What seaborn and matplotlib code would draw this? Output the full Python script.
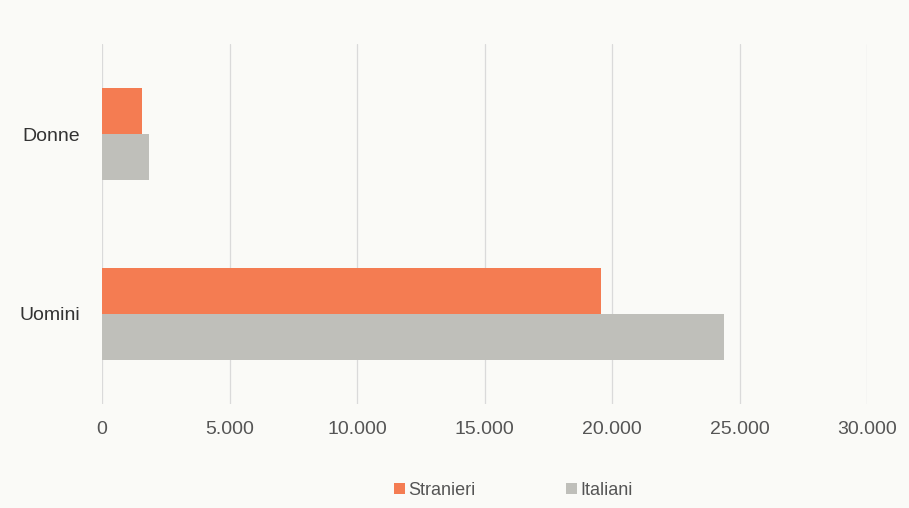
import pandas as pd
import matplotlib.pyplot as plt
import seaborn as sns
from matplotlib.ticker import FuncFormatter, MultipleLocator
from matplotlib.patches import Patch

# ============================================================
# DATA
# ============================================================
categories = ["Donne", "Uomini"]
groups = ["Stranieri", "Italiani"]
stranieri = [1570, 19550]
italiani = [1840, 24400]

COLORS = {"Stranieri": "#F47C52", "Italiani": "#BFBFBA"}
BG = "#FAFAF7"

df = pd.DataFrame({
    "Sesso": categories * 2,
    "Gruppo": ["Stranieri"] * 2 + ["Italiani"] * 2,
    "Valore": stranieri + italiani,
})

# ============================================================
# STYLE
# ============================================================
sns.set_theme(style="white")
plt.rcParams["font.family"] = ["Liberation Sans", "DejaVu Sans"]

fig = plt.figure(figsize=(9.09, 5.08), dpi=100, facecolor=BG)
ax = fig.add_axes([102 / 909, 104 / 508, 765 / 909, 360 / 508])
ax.set_facecolor(BG)

sns.barplot(
    data=df,
    x="Valore",
    y="Sesso",
    hue="Gruppo",
    order=categories,
    hue_order=groups,
    palette=COLORS,
    saturation=1,
    linewidth=0,
    width=0.51,
    orient="h",
    legend=False,
    ax=ax,
)

ax.set_xlim(0, 30000)
ax.set_ylim(1.5, -0.5)
ax.xaxis.set_major_locator(MultipleLocator(5000))
ax.xaxis.set_major_formatter(FuncFormatter(lambda v, p: f"{int(v):,}".replace(",", ".")))
ax.grid(axis="x", color="#DADADA", linewidth=0.9)
ax.set_axisbelow(True)
for s in ax.spines.values():
    s.set_visible(False)

ax.tick_params(axis="x", length=0, pad=12, labelsize=14, labelcolor="#555555")
ax.tick_params(axis="y", length=0, pad=16, labelsize=14, labelcolor="#333333")
ax.set_xlabel("")
ax.set_ylabel("")

handles = [Patch(facecolor=COLORS[g], edgecolor="none", label=g) for g in groups]
fig.legend(
    handles=handles,
    loc="center",
    bbox_to_anchor=(0.565, 0.035),
    ncol=2,
    frameon=False,
    fontsize=13,
    handlelength=0.6,
    handleheight=0.6,
    handletextpad=0.2,
    columnspacing=5.0,
    labelcolor="#555555",
)

fig.savefig("out.png", dpi=100, facecolor=BG)
